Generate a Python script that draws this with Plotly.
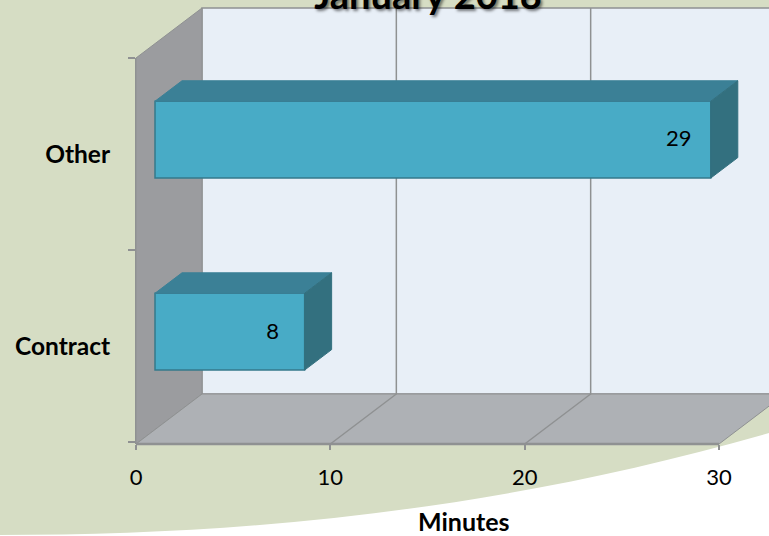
import plotly.graph_objects as go

categories = ["Contract", "Other"]
minutes = [7.7, 28.6]
labels = ["8", "29"]
x_ticks = [0, 10, 20, 30]

W, H = 769, 536
L, R, T, B = 136, 769, 58, 444
FONT = "Lato"
GREY = "#8F9192"

Y_MIN, Y_MAX = -0.51, 1.5
X_PER = 583 / 30                   # pixels per minute
X_WALL = 30
X_MAX = (R - L) / X_PER
DX = 66 / X_PER                    # wall depth in x units
DY = 50 / ((B - T) / (Y_MAX - Y_MIN))  # wall depth in y units
D0, D1 = 0.288, 0.697              # bar front and back, as a share of the depth
HALF = 0.2


def px(xv, d=0.0):
    return (xv + d * DX) / X_MAX


def py(yv, d=0.0):
    return (yv + d * DY - Y_MIN) / (Y_MAX - Y_MIN)


def poly(points):
    return "M" + " L".join(f"{px(x, d)},{py(y, d)}" for x, y, d in points) + " Z"


def paper_x(p):
    return (p - L) / (R - L)


def paper_y(p):
    return (B - p) / (B - T)


def pt(a, b):
    return f"{paper_x(a)},{paper_y(b)}"


shapes = []
# page background and its white curve
shapes.append(dict(type="rect", xref="paper", yref="paper", layer="below",
                   x0=paper_x(0), x1=paper_x(W), y0=paper_y(H), y1=paper_y(0),
                   fillcolor="#D6DDC4", line_width=0))
shapes.append(dict(type="path", xref="paper", yref="paper", layer="below",
                   path=(f"M{pt(0, 535)} C{pt(250, 535)} {pt(500, 510)} {pt(769, 433)} "
                         f"L{pt(769, 536)} L{pt(0, 536)} Z"),
                   fillcolor="white", line_width=0))

# back wall, left wall and floor
shapes.append(dict(type="path", xref="paper", yref="paper", layer="below",
                   path=poly([(0, Y_MIN, 1), (X_WALL, Y_MIN, 1), (X_WALL, Y_MAX, 1), (0, Y_MAX, 1)]),
                   fillcolor="#E8EFF7", line=dict(color=GREY, width=1.5)))
shapes.append(dict(type="path", xref="paper", yref="paper", layer="below",
                   path=poly([(0, Y_MIN, 0), (0, Y_MIN, 1), (0, Y_MAX, 1), (0, Y_MAX, 0)]),
                   fillcolor="#9B9C9F", line=dict(color=GREY, width=1)))
shapes.append(dict(type="path", xref="paper", yref="paper", layer="below",
                   path=poly([(0, Y_MIN, 0), (X_WALL, Y_MIN, 0), (X_WALL, Y_MIN, 1), (0, Y_MIN, 1)]),
                   fillcolor="#AEB1B5", line=dict(color=GREY, width=1)))
# x axis line
shapes.append(dict(type="line", xref="paper", yref="paper", layer="below",
                   x0=px(0), x1=px(X_WALL), y0=py(Y_MIN), y1=py(Y_MIN),
                   line=dict(color=GREY, width=2.5)))
# gridlines on back wall and floor
for t in x_ticks[1:-1]:
    shapes.append(dict(type="path", xref="paper", yref="paper", layer="below",
                       path="M" + " L".join(f"{px(t, d)},{py(y, d)}" for y, d in
                                            [(Y_MIN, 0), (Y_MIN, 1), (Y_MAX, 1)]),
                       line=dict(color=GREY, width=1.5)))

fig = go.Figure()

# bar fronts
ys = list(range(len(categories)))
fig.add_trace(go.Bar(
    x=minutes, y=[y + D0 * DY for y in ys], base=[D0 * DX] * len(ys), orientation="h",
    width=2 * HALF, marker=dict(color="#48ABC6", line=dict(color="#35798C", width=1.5)),
    hoverinfo="skip", showlegend=False))

# bar tops and sides
for y, v in zip(ys, minutes):
    top = [(0, y + HALF, D0), (v, y + HALF, D0), (v, y + HALF, D1), (0, y + HALF, D1), (0, y + HALF, D0)]
    side = [(v, y - HALF, D0), (v, y + HALF, D0), (v, y + HALF, D1), (v, y - HALF, D1), (v, y - HALF, D0)]
    for face, col in ((top, "#3B8096"), (side, "#33707F")):
        fig.add_trace(go.Scatter(
            x=[a + d * DX for a, b, d in face], y=[b + d * DY for a, b, d in face],
            mode="lines", fill="toself", fillcolor=col, line=dict(color=col, width=1),
            cliponaxis=False, hoverinfo="skip", showlegend=False))

# data labels
fig.add_trace(go.Scatter(
    x=[v + D0 * DX - 1.65 for v in minutes], y=[y + D0 * DY - 0.007 for y in ys],
    mode="text", text=labels, textposition="middle center",
    textfont=dict(family=FONT, size=22, color="black"),
    cliponaxis=False, hoverinfo="skip", showlegend=False))

fig.update_layout(
    width=W, height=H, autosize=False,
    margin=dict(l=L, r=W - R, t=T, b=H - B, pad=0),
    paper_bgcolor="white", plot_bgcolor="rgba(0,0,0,0)",
    font=dict(family=FONT, size=22, color="black"),
    showlegend=False, shapes=shapes,
    title=dict(text="<b>January 2018</b>", x=428 / W, xanchor="center", y=1 - 9 / H, yanchor="bottom",
               font=dict(family=FONT, size=38, color="black",
                         shadow="2px 2px 3px rgba(0,0,0,0.5)")),
    annotations=[dict(text="<b>Minutes</b>", xref="paper", yref="paper", x=paper_x(464), y=paper_y(521),
                      xanchor="center", yanchor="middle", showarrow=False,
                      font=dict(family=FONT, size=25, color="black"))],
    xaxis=dict(range=[0, X_MAX], tickvals=x_ticks, showgrid=False, zeroline=False, showline=False,
               ticks="outside", ticklen=5, tickcolor=GREY, tickwidth=1.5,
               ticklabelstandoff=9, tickfont=dict(size=22)),
    yaxis=dict(range=[Y_MIN, Y_MAX], tickvals=ys, ticktext=[f"<b>{c}</b>" for c in categories],
               showgrid=False, zeroline=False, showline=True, linecolor=GREY, linewidth=1,
               ticks="", ticklabelstandoff=20, tickfont=dict(size=24.5),
               minor=dict(tickvals=[-0.5, 0.5, 1.5], ticks="outside", ticklen=7,
                          tickcolor=GREY, tickwidth=1.5, showgrid=False)),
)

fig.write_html("out.html", config=dict(displayModeBar=False),
               post_script="document.body.style.margin='0';document.documentElement.style.overflow='hidden';")
